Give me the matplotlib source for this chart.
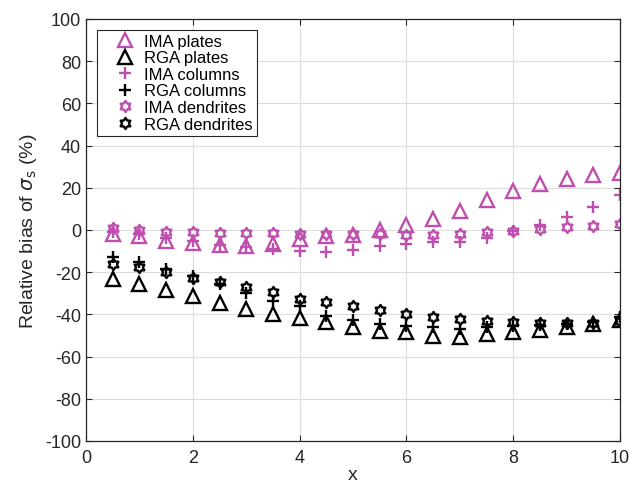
import numpy as np
import matplotlib.pyplot as plt
from matplotlib.path import Path

plt.rcParams['font.family'] = ['Liberation Sans', 'DejaVu Sans']
plt.rcParams['axes.unicode_minus'] = False

x = [0.5, 1.0, 1.5, 2.0, 2.5, 3.0, 3.5, 4.0, 4.5, 5.0,
     5.5, 6.0, 6.5, 7.0, 7.5, 8.0, 8.5, 9.0, 9.5, 10.0]

ima_plates = [-2, -3, -5, -6, -7, -7.5, -6.5, -4.5, -3, -2.5,
              0, 2.5, 5, 9, 14, 18.5, 22, 24, 26, 27]
rga_plates = [-23, -25.5, -28.5, -31.5, -34.5, -37.5, -39.8, -41.8, -43.5, -46,
              -47.7, -48.4, -50, -50.6, -49.3, -48.4, -47.3, -46, -44.5, -42.5]
ima_columns = [-1, -2, -4, -5, -7, -8, -9, -10, -10.5, -9.6,
               -7.6, -6.6, -5.8, -5.6, -3.8, -0.5, 2.3, 6, 11, 16.6]
rga_columns = [-12.8, -15, -18.5, -22, -25.6, -30, -33.5, -36, -40.6, -42.5,
               -44.5, -45.3, -46, -46.9, -46, -45.5, -45, -44.5, -43.7, -41]
ima_dendrites = [1, 0, -1, -1, -1.5, -1.5, -1.5, -2, -2, -2,
                 -2, -2.5, -2.5, -2, -1, -0.5, 0.5, 1.3, 2, 3]
rga_dendrites = [-16, -17.6, -20, -22.8, -24.6, -27, -29.5, -32.7, -34.3, -36,
                 -38, -39.8, -41, -42, -43, -43.5, -44, -44, -44, -43]

mag = '#bf4fae'

# six-pointed star like MATLAB's hexagram
ang = np.pi / 2 + np.arange(12) * np.pi / 6
rad = np.where(np.arange(12) % 2 == 0, 1.0, 0.62)
verts = np.column_stack([rad * np.cos(ang), rad * np.sin(ang)])
verts = np.vstack([verts, verts[:1]])
hexagram = Path(verts, closed=True)

fig = plt.figure(figsize=(6.29, 4.85), dpi=100)
ax = fig.add_axes([86 / 629, 1 - 442 / 485, 534 / 629, 422 / 485])

kw = dict(linestyle='none', markerfacecolor='none', markeredgewidth=1.7)
ax.plot(x, ima_plates, marker='^', markersize=10, color=mag, label='IMA plates', **kw)
ax.plot(x, rga_plates, marker='^', markersize=10, color='k', label='RGA plates', **kw)
ax.plot(x, ima_columns, marker='+', markersize=9, color=mag, label='IMA columns', **kw)
ax.plot(x, rga_columns, marker='+', markersize=9, color='k', label='RGA columns', **kw)
ax.plot(x, ima_dendrites, marker=hexagram, markersize=8, color=mag, label='IMA dendrites', **kw)
ax.plot(x, rga_dendrites, marker=hexagram, markersize=8, color='k', label='RGA dendrites', **kw)

ax.set_xlim(0, 10)
ax.set_ylim(-100, 100)
ax.set_xticks(range(0, 11, 2))
ax.set_yticks(range(-100, 101, 20))
ax.grid(True, color='#dddddd', linewidth=0.8)
ax.set_axisbelow(True)
ax.tick_params(direction='in', top=True, right=True, labelsize=13, colors='#262626', length=4)
ax.tick_params(axis='x', pad=6)
for s in ax.spines.values():
    s.set_color('#262626')
    s.set_linewidth(0.9)

ax.set_xlabel('x', fontsize=14, color='#262626', labelpad=0)
ax.set_ylabel(r'Relative bias of $\sigma_{\rm s}$ (%)', fontsize=14, color='#262626')

leg = ax.legend(loc='upper left', fontsize=12, fancybox=False, framealpha=1,
                edgecolor='#262626', labelspacing=0.09, handlelength=2.9,
                handletextpad=-0.3, borderpad=0.25, borderaxespad=0.65)
leg.get_frame().set_linewidth(0.8)

fig.savefig('out.png', dpi=100)
